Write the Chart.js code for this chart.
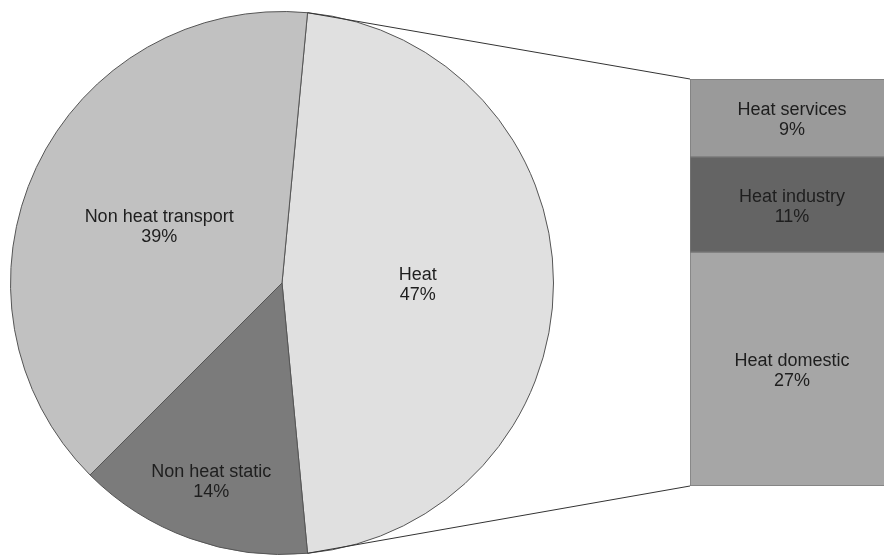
<!DOCTYPE html>
<html>
<head>
<meta charset="utf-8">
<script src="https://cdn.jsdelivr.net/npm/chart.js@4/dist/chart.umd.min.js"></script>
<style>
    html, body { margin: 0; padding: 0; background: #fff; overflow: hidden; }
    #wrap { position: relative; width: 884px; height: 556px; overflow: hidden; }
    #wrap canvas { position: absolute; left: 0; top: 0; }
</style>
</head>
<body>
<div id="wrap">
    <canvas id="pie-chart" width="884" height="556"></canvas>
    <canvas id="bar-chart" width="920" height="556" style="width:920px;height:556px"></canvas>
</div>
<script>
// main split of emissions
const pieLabels = ['Heat', 'Non heat static', 'Non heat transport'];
const pieValues = [47, 14, 39];
const pieColours = ['#e0e0e0', '#7b7b7b', '#c1c1c1'];
const pieLabelRadius = [0.5, 0.77, 0.5]; // fraction of radius where each label sits

// breakdown of the heat slice, top to bottom
const heatLabels = ['Heat services', 'Heat industry', 'Heat domestic'];
const heatValues = [9, 11, 27];
const heatColours = ['#9a9a9a', '#646464', '#a6a6a6'];

Chart.defaults.font.family = '"Liberation Sans", Arial, sans-serif';
Chart.defaults.font.size = 18;
Chart.defaults.animation = false;

const textColour = '#1e1e1e';
const lineGap = 20;

function drawTwoLines(ctx, name, value, x, y) {
    ctx.save();
    ctx.fillStyle = textColour;
    ctx.font = '18px "Liberation Sans", Arial, sans-serif';
    ctx.textAlign = 'center';
    ctx.textBaseline = 'alphabetic';
    ctx.fillText(name, x, y - 3);
    ctx.fillText(value + '%', x, y - 3 + lineGap);
    ctx.restore();
}

const pieLabelPlugin = {
    id: 'pieLabels',
    afterDatasetsDraw(chart) {
        const ctx = chart.ctx;
        chart.getDatasetMeta(0).data.forEach((arc, i) => {
            const mid = (arc.startAngle + arc.endAngle) / 2;
            const r = arc.outerRadius * pieLabelRadius[i];
            drawTwoLines(ctx, pieLabels[i], pieValues[i], arc.x + Math.cos(mid) * r, arc.y + Math.sin(mid) * r);
        });
    }
};

const pieChart = new Chart(document.getElementById('pie-chart'), {
    type: 'pie',
    data: {
        labels: pieLabels,
        datasets: [{
            data: pieValues,
            backgroundColor: pieColours,
            borderColor: '#555',
            borderWidth: 1
        }]
    },
    options: {
        responsive: false,
        rotation: 5.4,
        layout: { padding: { left: 10, top: 11, right: 330, bottom: 1 } },
        plugins: { legend: { display: false }, tooltip: { enabled: false } }
    },
    plugins: [pieLabelPlugin]
});

// lines from the heat slice edges to the corners of the breakdown bar
const connectorPlugin = {
    id: 'connectors',
    afterDatasetsDraw(chart) {
        const ctx = chart.ctx;
        const arc = pieChart.getDatasetMeta(0).data[0];
        const area = chart.chartArea;
        const top = chart.scales.y.getPixelForValue(0);
        const bottom = chart.scales.y.getPixelForValue(heatValues.reduce((a, b) => a + b, 0));
        ctx.save();
        ctx.strokeStyle = '#333';
        ctx.lineWidth = 1;
        ctx.beginPath();
        ctx.moveTo(arc.x + Math.cos(arc.startAngle) * arc.outerRadius, arc.y + Math.sin(arc.startAngle) * arc.outerRadius);
        ctx.lineTo(area.left, top);
        ctx.moveTo(arc.x + Math.cos(arc.endAngle) * arc.outerRadius, arc.y + Math.sin(arc.endAngle) * arc.outerRadius);
        ctx.lineTo(area.left, bottom);
        ctx.stroke();
        ctx.restore();

        chart.data.datasets.forEach((ds, i) => {
            const bar = chart.getDatasetMeta(i).data[0];
            drawTwoLines(ctx, heatLabels[i], heatValues[i], bar.x, (bar.y + bar.base) / 2);
        });
    }
};

const barChart = new Chart(document.getElementById('bar-chart'), {
    type: 'bar',
    data: {
        labels: ['Heat'],
        datasets: heatLabels.map((name, i) => ({
            label: name,
            data: [heatValues[i]],
            backgroundColor: heatColours[i],
            borderColor: '#7a7a7a',
            borderWidth: 1,
            borderSkipped: false,
            barPercentage: 1,
            categoryPercentage: 1
        }))
    },
    options: {
        responsive: false,
        layout: { padding: { left: 690, top: 79, right: 26, bottom: 70 } },
        scales: {
            x: { display: false, stacked: true },
            y: { display: false, stacked: true, reverse: true, min: 0, max: 47 }
        },
        plugins: { legend: { display: false }, tooltip: { enabled: false } }
    },
    plugins: [connectorPlugin]
});
</script>
</body>
</html>
